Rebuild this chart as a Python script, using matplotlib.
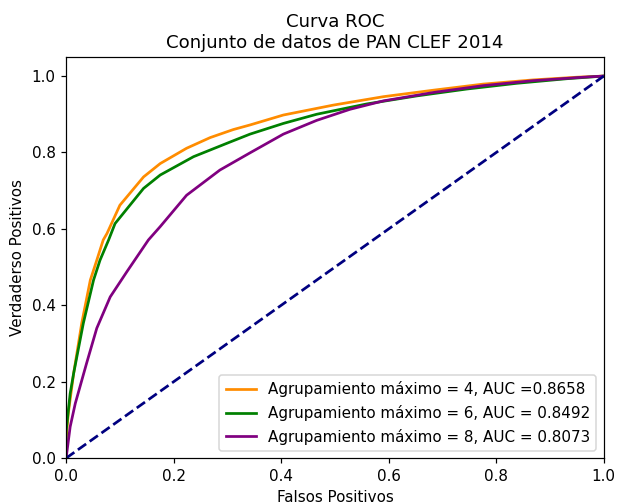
import matplotlib
matplotlib.use('Agg')
import matplotlib.pyplot as plt

# ROC points (fpr, tpr)
fpr_4 = [0.0, 0.0, 0.004, 0.014, 0.029, 0.045, 0.057, 0.069, 0.076, 0.100, 0.144, 0.175,
         0.224, 0.268, 0.311, 0.342, 0.404, 0.497, 0.590, 0.683, 0.776, 0.869, 0.95, 1.0]
tpr_4 = [0.0, 0.05, 0.117, 0.222, 0.353, 0.466, 0.518, 0.571, 0.588, 0.662, 0.736, 0.771,
         0.811, 0.839, 0.860, 0.872, 0.898, 0.924, 0.946, 0.963, 0.979, 0.990, 0.997, 1.0]

fpr_6 = [0.0, 0.0, 0.0075, 0.014, 0.032, 0.051, 0.063, 0.079, 0.091, 0.144, 0.175, 0.237,
         0.299, 0.342, 0.404, 0.466, 0.559, 0.652, 0.745, 0.838, 0.931, 1.0]
tpr_6 = [0.0, 0.07, 0.169, 0.222, 0.353, 0.466, 0.518, 0.571, 0.614, 0.706, 0.741, 0.789,
         0.824, 0.848, 0.876, 0.900, 0.927, 0.948, 0.966, 0.981, 0.993, 1.0]

fpr_8 = [0.0, 0.0075, 0.017, 0.038, 0.057, 0.082, 0.113, 0.153, 0.175, 0.224, 0.286,
         0.342, 0.404, 0.466, 0.528, 0.590, 0.683, 0.776, 0.869, 0.962, 1.0]
tpr_8 = [0.0, 0.082, 0.143, 0.248, 0.340, 0.422, 0.488, 0.571, 0.606, 0.688, 0.754,
         0.799, 0.848, 0.884, 0.913, 0.935, 0.957, 0.975, 0.988, 0.997, 1.0]

labels = ['Agrupamiento máximo = 4, AUC =0.8658',
          'Agrupamiento máximo = 6, AUC = 0.8492',
          'Agrupamiento máximo = 8, AUC = 0.8073']

dpi = 109
fig = plt.figure(figsize=(618 / dpi, 504 / dpi), dpi=dpi)
ax = fig.add_axes([0.107, 0.091, 0.870, 0.796])

ax.plot(fpr_4, tpr_4, color='darkorange', lw=1.8, label=labels[0])
ax.plot(fpr_6, tpr_6, color='green', lw=1.8, label=labels[1])
ax.plot(fpr_8, tpr_8, color='purple', lw=1.8, label=labels[2])
ax.plot([0, 1], [0, 1], color='navy', lw=1.8, linestyle='--')

ax.set_xlim(0.0, 1.0)
ax.set_ylim(0.0, 1.05)
ax.set_xlabel('Falsos Positivos')
ax.set_ylabel('Verdaderso Positivos')
ax.set_title('Curva ROC\nConjunto de datos de PAN CLEF 2014')
ax.legend(loc='lower right')

fig.savefig('out.png', dpi=dpi)
